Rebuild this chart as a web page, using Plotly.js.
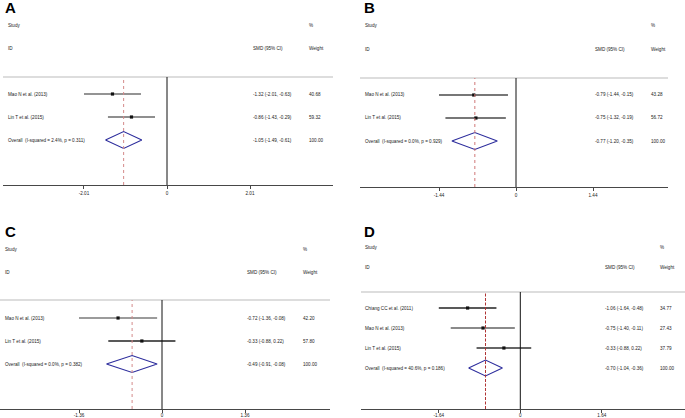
<!DOCTYPE html>
<html><head><meta charset="utf-8">
<script src="https://cdn.plot.ly/plotly-3.0.1.min.js"></script>
<style>html,body{margin:0;padding:0;background:#fff}#chart{width:685px;height:418px}</style>
</head><body><div id="chart"></div>
<script>
// ---------------- data ----------------
const studiesA = ["Mao N et al. (2013)", "Lin T et al. (2015)"];
const smdA = [-1.32, -0.86];
const lowA = [-2.01, -1.43];
const highA = [-0.63, -0.29];
const weightA = [40.68, 59.32];
const overallA = [-1.05, -1.49, -0.61];
const hetA = "I-squared = 2.4%, p = 0.311";
const ticksA = [-2.01, 0, 2.01];

const studiesB = ["Mao N et al. (2013)", "Lin T et al. (2015)"];
const smdB = [-0.79, -0.75];
const lowB = [-1.44, -1.32];
const highB = [-0.15, -0.19];
const weightB = [43.28, 56.72];
const overallB = [-0.77, -1.20, -0.35];
const hetB = "I-squared = 0.0%, p = 0.929";
const ticksB = [-1.44, 0, 1.44];

const studiesC = ["Mao N et al. (2013)", "Lin T et al. (2015)"];
const smdC = [-0.72, -0.33];
const lowC = [-1.36, -0.88];
const highC = [-0.08, 0.22];
const weightC = [42.20, 57.80];
const overallC = [-0.49, -0.91, -0.08];
const hetC = "I-squared = 0.0%, p = 0.382";
const ticksC = [-1.36, 0, 1.36];

const studiesD = ["Chiang CC et al. (2011)", "Mao N et al. (2013)", "Lin T et al. (2015)"];
const smdD = [-1.06, -0.75, -0.33];
const lowD = [-1.64, -1.40, -0.88];
const highD = [-0.48, -0.11, 0.22];
const weightD = [34.77, 27.43, 37.79];
const overallD = [-0.70, -1.04, -0.36];
const hetD = "I-squared = 40.6%, p = 0.186";
const ticksD = [-1.64, 0, 1.64];

const panelLetters = ["A", "B", "C", "D"];

// ---------------- layout / style (pixels) ----------------
const W = 685, H = 418;
const panels = [
  {studies: studiesA, smd: smdA, low: lowA, high: highA, weight: weightA, overall: overallA, het: hetA, ticks: ticksA,
   px: {xl: 3, xr: 333, zero: 167, scale: 41.3, yt: 77, yb: 185, row1: 94, rowH: 23, label: 6, smd: 251, wt: 307, h1: 25, h2: 48, lx: 3, ly: 7.5},
   ci: ['#707070', '#6a6a6a'], ciW: [1.5, 1.5], ref: '#d48a8a', refDash: 'dot', dh: 8.5, stand: 0},
  {studies: studiesB, smd: smdB, low: lowB, high: highB, weight: weightB, overall: overallB, het: hetB, ticks: ticksB,
   px: {xl: 360, xr: 668, zero: 516, scale: 53.47, yt: 78, yb: 187, row1: 95, rowH: 23, label: 363, smd: 593, wt: 649, h1: 26, h2: 49, lx: 362, ly: 8},
   ci: ['#4a4a4a', '#4a4a4a'], ciW: [1.5, 1.5], ref: '#d07878', refDash: 'dot', dh: 8.5, stand: 0},
  {studies: studiesC, smd: smdC, low: lowC, high: highC, weight: weightC, overall: overallC, het: hetC, ticks: ticksC,
   px: {xl: 0, xr: 330, zero: 162, scale: 61.03, yt: 300, yb: 409, row1: 318, rowH: 23, label: 3, smd: 245, wt: 301, h1: 249, h2: 272, lx: 3, ly: 231},
   ci: ['#7a7a7a', '#222222'], ciW: [1.5, 1.3], ref: '#d48a8a', refDash: 'dot', dh: 8.5, stand: -2},
  {studies: studiesD, smd: smdD, low: lowD, high: highD, weight: weightD, overall: overallD, het: hetD, ticks: ticksD,
   px: {xl: 361, xr: 685, zero: 520.3, scale: 49.7, yt: 292, yb: 409, row1: 308, rowH: 20, label: 363, smd: 603, wt: 658, h1: 247, h2: 267, lx: 362, ly: 231.5},
   ci: ['#222222', '#8a8a8a', '#333333'], ciW: [1.3, 2, 1.3], ref: '#b03434', refDash: '3px,1.5px', dh: 8, stand: -2},
];

const fmt = v => v.toFixed(2);
const txtFont = {family: 'Liberation Sans, Arial, sans-serif', size: 4.6, color: '#222'};
const data = [], shapes = [], annotations = [];
const layout = {
  width: W, height: H, margin: {l: 0, r: 0, t: 0, b: 0},
  paper_bgcolor: '#fff', plot_bgcolor: '#fff', showlegend: false,
  shapes: shapes, annotations: annotations
};

panels.forEach((p, k) => {
  const n = k + 1;
  const xid = n === 1 ? 'x' : 'x' + n, yid = n === 1 ? 'y' : 'y' + n;
  const xkey = n === 1 ? 'xaxis' : 'xaxis' + n, ykey = n === 1 ? 'yaxis' : 'yaxis' + n;
  const q = p.px;
  const yTop = 1 - (q.row1 - q.yt) / q.rowH;
  const yBot = 1 + (q.yb - q.row1) / q.rowH;
  layout[xkey] = {
    domain: [q.xl / W, q.xr / W], anchor: yid,
    range: [(q.xl - q.zero) / q.scale, (q.xr - q.zero) / q.scale],
    showgrid: false, zeroline: false, showline: true, linecolor: '#474747', linewidth: 1.2,
    ticks: 'outside', ticklen: 3, tickwidth: 1, tickcolor: '#474747',
    ticklabelstandoff: p.stand,
    tickvals: p.ticks, ticktext: p.ticks.map(t => t === 0 ? '0' : fmt(t)),
    tickfont: {family: 'Liberation Sans, Arial, sans-serif', size: 4.6, color: '#222'},
    fixedrange: true
  };
  layout[ykey] = {
    domain: [1 - q.yb / H, 1 - q.yt / H], anchor: xid,
    range: [yBot, yTop], visible: false, showgrid: false, zeroline: false, fixedrange: true
  };
  // grey header separator
  shapes.push({type: 'line', xref: xid + ' domain', yref: yid + ' domain', x0: 0, x1: 1, y0: 1, y1: 1,
    line: {color: '#d2d2d2', width: 1.6}, layer: 'below'});
  // zero line
  shapes.push({type: 'line', xref: xid, yref: yid + ' domain', x0: 0, x1: 0, y0: 0, y1: 1,
    line: {color: '#111', width: 1}});
  // overall estimate reference line
  shapes.push({type: 'line', xref: xid, yref: yid + ' domain', x0: p.overall[0], x1: p.overall[0], y0: 0, y1: 1,
    line: {color: p.ref, width: 1, dash: p.refDash}});

  // CI lines
  p.studies.forEach((s, i) => {
    data.push({type: 'scatter', mode: 'lines', xaxis: xid, yaxis: yid, hoverinfo: 'skip',
      x: [p.low[i], p.high[i]], y: [i + 1, i + 1],
      line: {color: p.ci[i], width: p.ciW[i]}});
  });
  // point estimates
  data.push({type: 'scatter', mode: 'markers', xaxis: xid, yaxis: yid, hoverinfo: 'skip',
    x: p.smd, y: p.studies.map((s, i) => i + 1),
    marker: {symbol: 'square', size: 3.2, color: '#111'}});
  // overall diamond
  const r = p.studies.length + 1, h = p.dh / q.rowH;
  const o = p.overall;
  data.push({type: 'scatter', mode: 'lines', xaxis: xid, yaxis: yid, hoverinfo: 'skip',
    x: [o[1], o[0], o[2], o[0], o[1]], y: [r, r - h, r, r + h, r],
    line: {color: '#2c2c9c', width: 1.1}});

  // texts
  const A = (x, y, text, yref) => annotations.push({
    xref: 'paper', yref: yref || 'paper', x: x / W, y: yref ? y : 1 - y / H,
    xanchor: 'left', yanchor: 'middle', text: text, showarrow: false, font: txtFont
  });
  annotations.push({xref: 'paper', yref: 'paper', x: q.lx / W, y: 1 - q.ly / H, xanchor: 'left', yanchor: 'middle',
    text: '<b>' + panelLetters[k] + '</b>', showarrow: false,
    font: {family: 'Liberation Sans, Arial, sans-serif', size: 15, color: '#000'}});
  A(q.label, q.h1, 'Study');
  A(q.wt, q.h1, '%');
  A(q.label, q.h2, 'ID');
  A(q.smd, q.h2, 'SMD (95% CI)');
  A(q.wt, q.h2, 'Weight');
  p.studies.forEach((s, i) => {
    A(q.label, i + 1, s, yid);
    A(q.smd, i + 1, fmt(p.smd[i]) + ' (' + fmt(p.low[i]) + ', ' + fmt(p.high[i]) + ')', yid);
    A(q.wt, i + 1, fmt(p.weight[i]), yid);
  });
  A(q.label, r, 'Overall  (' + p.het + ')', yid);
  A(q.smd, r, fmt(o[0]) + ' (' + fmt(o[1]) + ', ' + fmt(o[2]) + ')', yid);
  A(q.wt, r, '100.00', yid);
});

Plotly.newPlot('chart', data, layout, {staticPlot: true, displayModeBar: false});
</script>
</body></html>
